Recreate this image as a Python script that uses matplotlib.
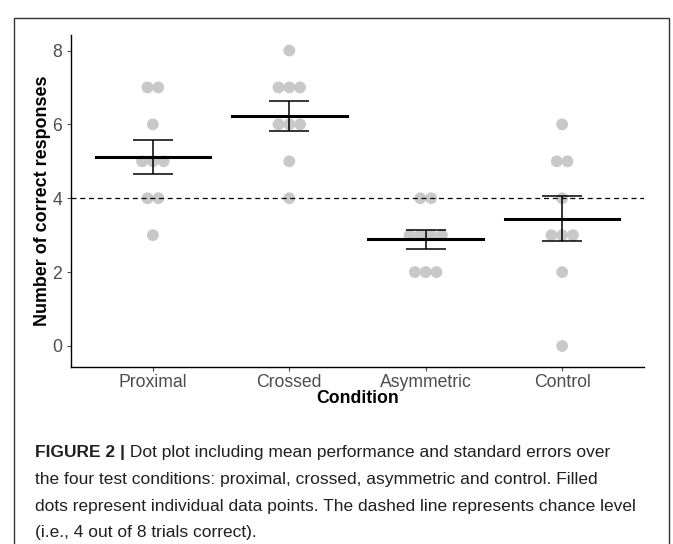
import numpy as np
import matplotlib
matplotlib.use("Agg")
import matplotlib.pyplot as plt
from matplotlib.patches import Rectangle

plt.rcParams['font.family'] = ['Liberation Sans', 'DejaVu Sans']

conditions = ["Proximal", "Crossed", "Asymmetric", "Control"]
proximal = [7, 7, 6, 5, 5, 5, 4, 4, 3]
crossed = [8, 7, 7, 7, 6, 6, 6, 5, 4]
asymmetric = [4, 4, 3, 3, 3, 3, 2, 2, 2]
control = [6, 5, 5, 4, 3, 3, 3, 2, 0]
chance = 4
yticks = [0, 2, 4, 6, 8]

caption_bold = "FIGURE 2 |"
caption_first = " Dot plot including mean performance and standard errors over"
caption_rest = ["the four test conditions: proximal, crossed, asymmetric and control. Filled",
                "dots represent individual data points. The dashed line represents chance level",
                "(i.e., 4 out of 8 trials correct)."]

fig = plt.figure(figsize=(6.73, 5.44), dpi=100)
ax = fig.add_axes([71/673, 1 - 367/544, (644-71)/673, (367-35)/544])

dot_step = 0.079
for i, vals in enumerate([proximal, crossed, asymmetric, control]):
    xc = i + 1
    vals = np.array(vals)
    # stack dots of same value side by side
    for v in np.unique(vals):
        n = np.sum(vals == v)
        offs = (np.arange(n) - (n - 1) / 2) * dot_step
        ax.scatter(xc + offs, [v] * n, s=72, color="#c8c8c8", edgecolor="none", zorder=2)
    m = vals.mean()
    se = vals.std(ddof=1) / np.sqrt(len(vals))
    ax.errorbar(xc, m, yerr=se, color="black", lw=1.1, capsize=14.5, capthick=1.1, zorder=3)
    ax.plot([xc - 0.42, xc + 0.42], [m, m], color="black", lw=2.2, zorder=4)

ax.axhline(chance, color="black", lw=0.9, ls=(0, (4, 3)), zorder=3)

ax.set_xlim(0.4, 4.6)
ax.set_ylim(-0.57, 8.42)
ax.set_xticks(range(1, 5))
ax.set_xticklabels(conditions)
ax.set_yticks(yticks)
ax.tick_params(colors="#4d4d4d", labelsize=12.7, length=3, width=0.8)
ax.tick_params(axis="x", pad=2)
for s in ["top", "right"]:
    ax.spines[s].set_visible(False)
for s in ["left", "bottom"]:
    ax.spines[s].set_color("black")
    ax.spines[s].set_linewidth(1)
ax.set_xlabel("Condition", fontsize=12.7, fontweight="bold", labelpad=-1)
ax.set_ylabel("Number of correct responses", fontsize=12.9, fontweight="bold", labelpad=0.5)

# figure frame
fig.patches.append(Rectangle((14/673, -0.01), (669-14)/673, 1 - 18/544 + 0.01,
                             transform=fig.transFigure, fill=False, edgecolor="#333333", lw=1))

cx = 35 / 673
t0 = fig.text(cx, 1 - 457/544, caption_bold, fontsize=12.5, fontweight="bold",
              color="#231f20", va="baseline")
ax.annotate(caption_first, xy=(1, 0), xycoords=t0, va="bottom", fontsize=12.5,
            color="#231f20", annotation_clip=False)
for k, line in enumerate(caption_rest):
    fig.text(cx, 1 - (484 + 26.5*k)/544, line, fontsize=12.5, color="#231f20", va="baseline")

fig.savefig("out.png", dpi=100)
